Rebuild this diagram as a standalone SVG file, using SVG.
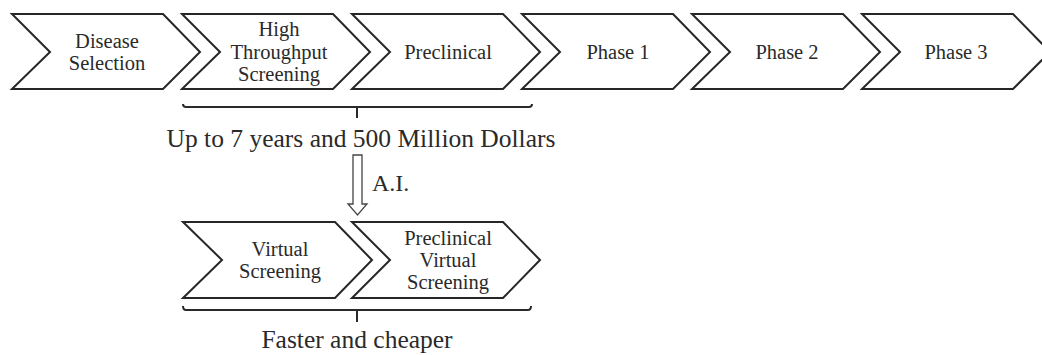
<svg xmlns="http://www.w3.org/2000/svg" width="1042" height="355" viewBox="0 0 1042 355">
<defs>
<style>
.chev{fill:#ffffff;stroke:#262626;stroke-width:2;stroke-linejoin:miter}
.t{font-family:"Liberation Serif","Times New Roman",serif;fill:#2a2a2a;text-anchor:middle}
.s{font-size:20.5px}
.big{font-size:25.5px}
.br{fill:none;stroke:#2a2a2a;stroke-width:2}
.ar{fill:#ffffff;stroke:#444;stroke-width:1.3}
</style>
<path id="chevTop" d="M0,0 L151,0 L188,38 L151,75 L0,75 L38,38 Z"/>
</defs>
<rect width="1042" height="355" fill="#ffffff"/>

<g id="node-disease-selection">
<use href="#chevTop" class="chev" x="12" y="14"/>
<text class="t s" x="107" y="48">Disease</text>
<text class="t s" x="107" y="70">Selection</text>
</g>
<g id="node-hts">
<use href="#chevTop" class="chev" x="182" y="14"/>
<text class="t s" x="279" y="36">High</text>
<text class="t s" x="279" y="59">Throughput</text>
<text class="t s" x="279" y="81">Screening</text>
</g>
<g id="node-preclinical">
<use href="#chevTop" class="chev" x="352" y="14"/>
<text class="t s" x="448" y="59">Preclinical</text>
</g>
<g id="node-phase1">
<use href="#chevTop" class="chev" x="522" y="14"/>
<text class="t s" x="618" y="59">Phase 1</text>
</g>
<g id="node-phase2">
<use href="#chevTop" class="chev" x="692" y="14"/>
<text class="t s" x="787" y="59">Phase 2</text>
</g>
<g id="node-phase3">
<use href="#chevTop" class="chev" x="862" y="14"/>
<text class="t s" x="956" y="59">Phase 3</text>
</g>

<g id="node-virtual-screening">
<path class="chev" d="M183,222 L335,222 L372,260 L335,298 L183,298 L222,260 Z"/>
<text class="t s" x="280" y="256">Virtual</text>
<text class="t s" x="280" y="278">Screening</text>
</g>
<g id="node-preclinical-virtual-screening">
<path class="chev" d="M352,222 L503,222 L540,260 L503,298 L352,298 L390,260 Z"/>
<text class="t s" x="448" y="245">Preclinical</text>
<text class="t s" x="448" y="267">Virtual</text>
<text class="t s" x="448" y="289">Screening</text>
</g>

<g id="connectors">
<path class="br" d="M183,104 Q183,107 186,107 L529,107 Q532,107 532,104 M357,107 V118"/>
<text class="t big" x="361" y="147">Up to 7 years and 500 Million Dollars</text>
<path class="ar" d="M353,155 L362,155 L362,204 L367,204 L357.5,215 L348,204 L353,204 Z"/>
<text class="t" x="372" y="191" style="text-anchor:start;font-size:24px">A.I.</text>
<path class="br" d="M183,306 Q183,310 186,310 L528,310 Q531,310 531,306 M357,310 V322"/>
<text class="t big" x="357" y="348">Faster and cheaper</text>
</g>
</svg>
